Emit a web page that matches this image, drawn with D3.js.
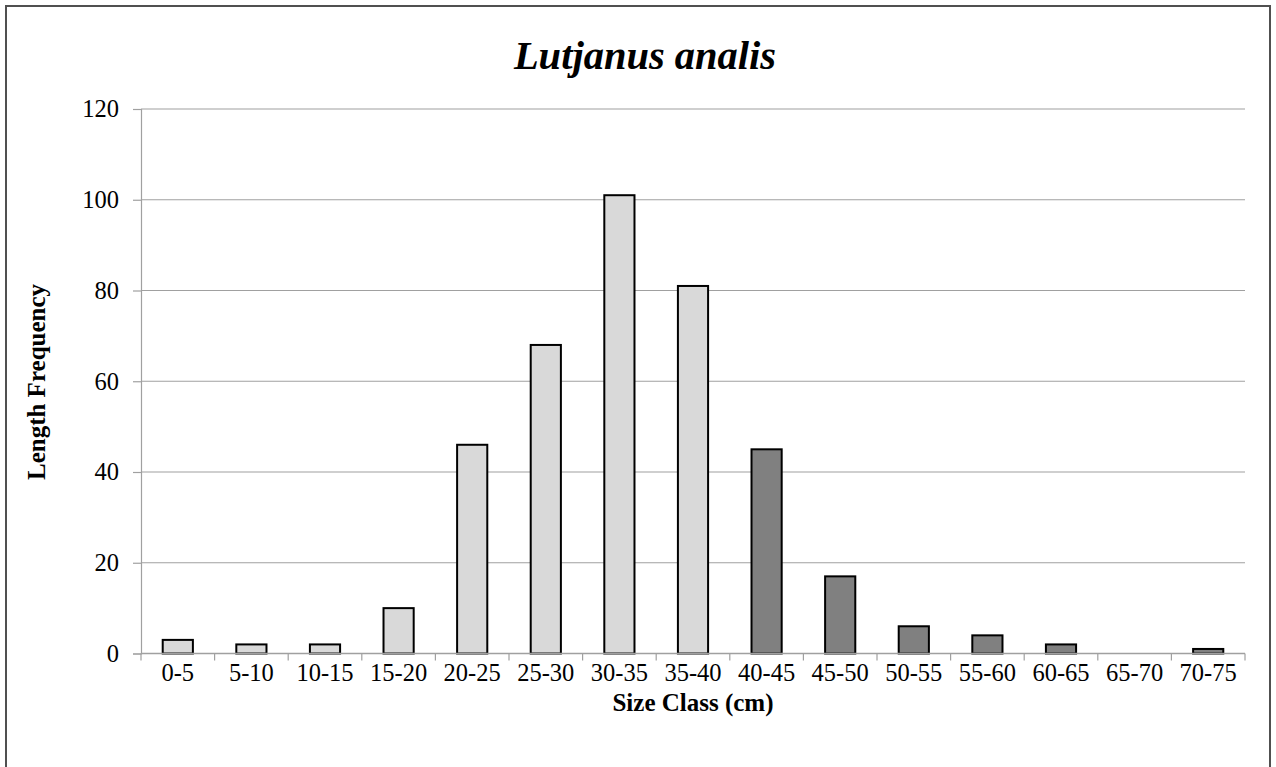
<!DOCTYPE html>
<html><head><meta charset="utf-8">
<script src="https://cdn.jsdelivr.net/npm/d3@7"></script>
<style>body{margin:0;background:#fff}svg{display:block}</style>
</head><body><svg id="c" width="1276" height="767"></svg>
<script>
const categories = ["0-5","5-10","10-15","15-20","20-25","25-30","30-35","35-40","40-45","45-50","50-55","55-60","60-65","65-70","70-75"];
const values = [3,2,2,10,46,68,101,81,45,17,6,4,2,0,1];
const groups = ["light","light","light","light","light","light","light","light","dark","dark","dark","dark","dark","dark","dark"];
const yTicks = [0,20,40,60,80,100,120];
const titleText = "Lutjanus analis";
const xTitle = "Size Class (cm)";
const yTitle = "Length Frequency";

const svg = d3.select("#c");
const font = "'Liberation Serif','Times New Roman',serif";
const L = 141, R = 1245, T = 109, B = 653.5;

svg.append("rect").attr("x",6).attr("y",6).attr("width",1264).attr("height",780)
  .attr("fill","#fff").attr("stroke","#505050").attr("stroke-width",2);

const x = d3.scaleBand().domain(categories).range([L,R]).paddingInner(0.59).paddingOuter(0.295);
const y = d3.scaleLinear().domain([0,120]).range([B,T]);

// gridlines
svg.append("g").selectAll("line").data(yTicks.filter(d=>d>0)).join("line")
  .attr("x1",L).attr("x2",R).attr("y1",d=>y(d)).attr("y2",d=>y(d))
  .attr("stroke","#a0a0a0").attr("stroke-width",1.2);

// y axis
const ya = svg.append("g").attr("transform",`translate(${L},0)`)
  .call(d3.axisLeft(y).tickValues(yTicks).tickSize(8).tickPadding(14));
ya.select(".domain").attr("stroke","#a0a0a0").attr("stroke-width",1.2);
ya.selectAll(".tick line").attr("stroke","#a0a0a0").attr("stroke-width",1.2);
ya.selectAll("text").attr("font-family",font).attr("font-size",24.5).attr("fill","#000");

// bars
svg.append("g").selectAll("rect").data(categories).join("rect")
  .attr("x",d=>x(d)).attr("width",x.bandwidth())
  .attr("y",(d,i)=>y(values[i])).attr("height",(d,i)=>B-y(values[i]))
  .attr("fill",(d,i)=>groups[i]==="light"?"#d9d9d9":"#808080")
  .attr("stroke",(d,i)=>values[i]>0?"#000":"none").attr("stroke-width",2);

// x axis
const step = x.step();
const boundaries = d3.range(categories.length+1).map(i=>L+i*step);
const xa = svg.append("g");
xa.append("line").attr("x1",L).attr("x2",R).attr("y1",B).attr("y2",B)
  .attr("stroke","#a0a0a0").attr("stroke-width",1.5);
xa.selectAll("line.tk").data(boundaries).join("line").attr("class","tk")
  .attr("x1",d=>d).attr("x2",d=>d).attr("y1",B).attr("y2",B+7)
  .attr("stroke","#a0a0a0").attr("stroke-width",1.2);
xa.selectAll("text").data(categories).join("text")
  .attr("x",d=>x(d)+x.bandwidth()/2).attr("y",B+27)
  .attr("text-anchor","middle").attr("font-family",font).attr("font-size",24.5)
  .text(d=>d);

// titles
svg.append("text").attr("x",645).attr("y",69).attr("text-anchor","middle")
  .attr("font-family",font).attr("font-size",40.5).attr("font-weight","bold").attr("font-style","italic")
  .text(titleText);
svg.append("text").attr("x",693).attr("y",711).attr("text-anchor","middle")
  .attr("font-family",font).attr("font-size",25).attr("font-weight","bold").text(xTitle);
svg.append("text").attr("transform","translate(45,382) rotate(-90)").attr("text-anchor","middle")
  .attr("font-family",font).attr("font-size",25).attr("font-weight","bold").text(yTitle);
</script></body></html>
